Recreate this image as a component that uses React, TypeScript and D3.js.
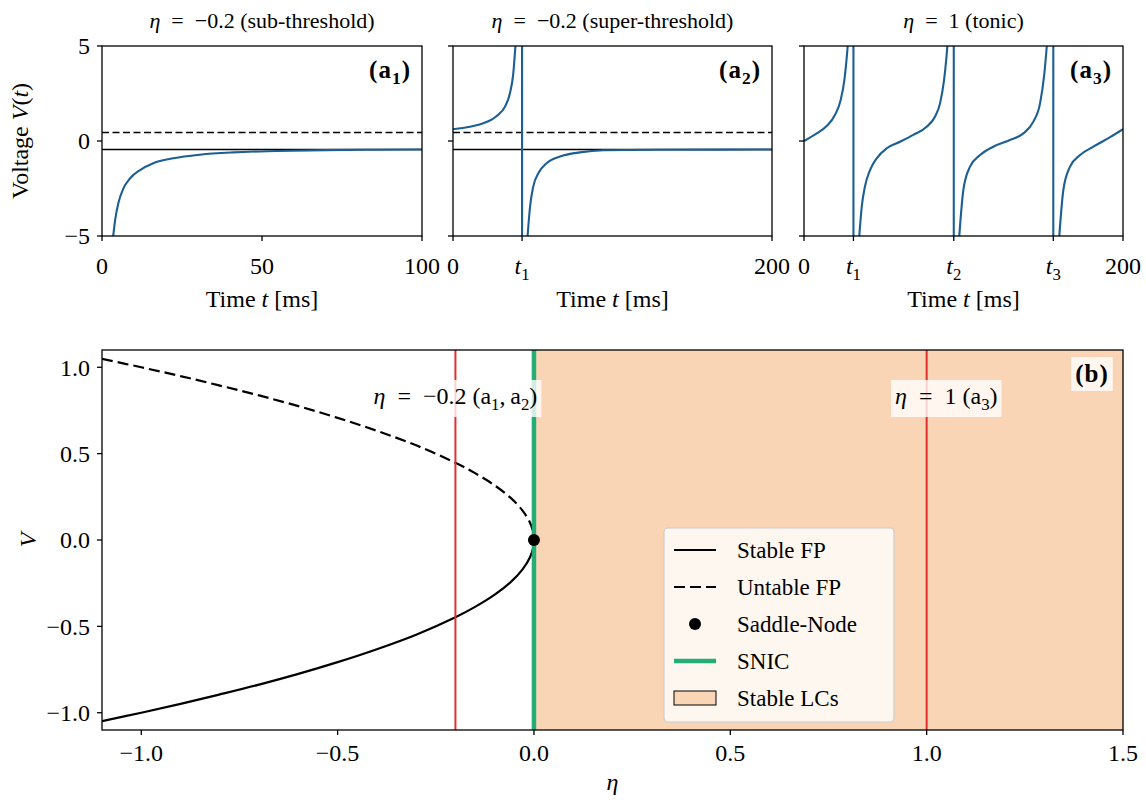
import React, { useRef, useEffect } from 'react';
import * as d3 from 'd3';

// ---- data ----
// (a1) eta = -0.2, sub-threshold
const a1T = [3.5, 4.1, 5.1, 6.7, 8.8, 11.9, 16, 22.3, 30.6, 41, 54.6, 70, 85, 100];
const a1V = [-5, -4.16, -3.28, -2.49, -1.96, -1.53, -1.17, -0.91, -0.72, -0.6, -0.53, -0.48, -0.46, -0.45];

// (a2) eta = -0.2, super-threshold: before and after the spike
const a2PreT = [0, 10.7, 19, 27.4, 32.6, 35.7, 37.8, 39.1];
const a2PreV = [0.62, 0.75, 0.93, 1.32, 1.81, 2.51, 3.56, 4.96];
const a2PostT = [46.8, 48.3, 50.3, 53.5, 58.7, 67.1, 79.6, 94.3, 130, 200];
const a2PostV = [-4.95, -3.46, -2.4, -1.7, -1.17, -0.82, -0.6, -0.49, -0.46, -0.45];
const a2Spikes = [43.3];

// (a3) eta = 1, tonic spiking: four pieces between three spikes
const a3Seg1T = [0, 8, 14.2, 19.4, 23, 25.3, 27, 27.4];
const a3Seg1V = [0, 0.4, 0.79, 1.37, 2.16, 3.2, 4.6, 5.0];
const a3Seg2T = [34.7, 36.2, 38.2, 41.4, 45.6, 51.9, 60.2, 68.5, 76.9, 82.1, 85.3, 87.8, 89.5, 89.9];
const a3Seg2V = [-4.95, -3.46, -2.4, -1.53, -0.91, -0.38, -0.04, 0.32, 0.75, 1.28, 1.98, 3.2, 4.6, 5.0];
const a3Seg3T = [97.4, 99.9, 104.1, 110.4, 118.7, 129.2, 137.5, 143.8, 148, 150.7, 152.2];
const a3Seg3V = [-4.95, -2.58, -1.35, -0.74, -0.3, 0.05, 0.4, 1.02, 1.98, 3.56, 4.96];
const a3Seg4T = [160.1, 162.6, 166.8, 173.1, 181.4, 191.9, 200];
const a3Seg4V = [-4.95, -2.58, -1.35, -0.74, -0.3, 0.2, 0.62];
const a3Spikes = [31, 93.9, 156.3];

// fixed points at eta = -0.2
const fpStable = -0.447;
const fpUnstable = 0.447;

// (b) bifurcation diagram
const fpEta = [-1.1, -1.0, -0.9, -0.8, -0.7, -0.6, -0.5, -0.4, -0.3, -0.2, -0.15, -0.1, -0.06, -0.03, -0.01, -0.002, 0];
const stableV = [-1.049, -1.0, -0.949, -0.894, -0.837, -0.775, -0.707, -0.632, -0.548, -0.447, -0.387, -0.316, -0.245, -0.173, -0.1, -0.045, 0];
const unstableV = [1.049, 1.0, 0.949, 0.894, 0.837, 0.775, 0.707, 0.632, 0.548, 0.447, 0.387, 0.316, 0.245, 0.173, 0.1, 0.045, 0];
const snicEta = 0;
const lcEta = [0, 1.5];
const markEta = [-0.2, 1];

const bTicksX = [-1.0, -0.5, 0.0, 0.5, 1.0, 1.5];
const bTicksY = [-1.0, -0.5, 0.0, 0.5, 1.0];
const aTicksY = [-5, 0, 5];

const FONT = '"Liberation Serif", "DejaVu Serif", serif';
const BLUE = '#1c5f95';
const RED = '#e0302f';
const GREEN = '#25ad78';
const PEACH = '#f9d5b5';
const SP = '\u2002'; // math-mode spacing around "="

type Part = { t: string; i?: boolean; sub?: boolean };

function rich(text: any, parts: Part[], size: number) {
  let shift = 0;
  parts.forEach(p => {
    const ts = text.append('tspan').text(p.t);
    if (p.i) ts.attr('font-style', 'italic');
    const want = p.sub ? size * 0.25 : 0;
    if (want !== shift) ts.attr('dy', want - shift);
    shift = want;
    if (p.sub) ts.attr('font-size', size * 0.7);
  });
}

const minus = (v: number, digits: number) => {
  const s = v.toFixed(digits);
  return s.startsWith('-') ? '\u2212' + s.slice(1) : s;
};

const App = () => {
  const ref = useRef<SVGSVGElement>(null);

  useEffect(() => {
    const svg = d3.select(ref.current);
    svg.selectAll('*').remove();
    svg.attr('font-family', FONT);

    const defs = svg.append('defs');
    const fs = 24;

    // ---------- top row ----------
    const top = 46, bottom = 236;
    const panels = [
      { x0: 102, x1: 422, xmax: 100, title: [{ t: 'η', i: true }, { t: `${SP}=${SP}\u22120.2 (sub-threshold)` }], lab: '1' },
      { x0: 453, x1: 772, xmax: 200, title: [{ t: 'η', i: true }, { t: `${SP}=${SP}\u22120.2 (super-threshold)` }], lab: '2' },
      { x0: 804, x1: 1123, xmax: 200, title: [{ t: 'η', i: true }, { t: `${SP}=${SP}1 (tonic)` }], lab: '3' },
    ];
    const y = d3.scaleLinear().domain([-5, 5]).range([bottom, top]);

    panels.forEach((p, pi) => {
      const x = d3.scaleLinear().domain([0, p.xmax]).range([p.x0, p.x1]);
      const g = svg.append('g');
      const clipId = `clipA${pi}`;
      defs.append('clipPath').attr('id', clipId)
        .append('rect').attr('x', p.x0).attr('y', top).attr('width', p.x1 - p.x0).attr('height', bottom - top);
      const plot = g.append('g').attr('clip-path', `url(#${clipId})`);

      // fixed points (only for eta = -0.2)
      if (pi < 2) {
        plot.append('line').attr('x1', p.x0).attr('x2', p.x1)
          .attr('y1', y(fpUnstable)).attr('y2', y(fpUnstable))
          .attr('stroke', '#000').attr('stroke-width', 1.5).attr('stroke-dasharray', '7,3.5');
        plot.append('line').attr('x1', p.x0).attr('x2', p.x1)
          .attr('y1', y(fpStable)).attr('y2', y(fpStable))
          .attr('stroke', '#000').attr('stroke-width', 1.5);
      }

      const smooth = d3.line<[number, number]>().x(d => x(d[0])).y(d => y(d[1])).curve(d3.curveMonotoneX);
      const straight = d3.line<[number, number]>().x(d => x(d[0])).y(d => y(d[1]));
      const zip = (ts: number[], vs: number[]) => ts.map((t, i) => [t, vs[i]] as [number, number]);

      let segs: [number, number][][] = [];
      let spikes: number[] = [];
      if (pi === 0) segs = [zip(a1T, a1V)];
      if (pi === 1) { segs = [zip(a2PreT, a2PreV), zip(a2PostT, a2PostV)]; spikes = a2Spikes; }
      if (pi === 2) {
        segs = [zip(a3Seg1T, a3Seg1V), zip(a3Seg2T, a3Seg2V), zip(a3Seg3T, a3Seg3V), zip(a3Seg4T, a3Seg4V)];
        spikes = a3Spikes;
      }
      segs.forEach(s => {
        plot.append('path').attr('d', smooth(s)).attr('fill', 'none')
          .attr('stroke', BLUE).attr('stroke-width', 2.1);
      });
      spikes.forEach((st, i) => {
        const before = segs[i][segs[i].length - 1];
        const after = segs[i + 1][0];
        const pts: [number, number][] = [before, [st, 60], [st, -60], after];
        plot.append('path').attr('d', straight(pts)).attr('fill', 'none')
          .attr('stroke', BLUE).attr('stroke-width', 2.1);
      });

      // spines
      g.append('rect').attr('x', p.x0).attr('y', top).attr('width', p.x1 - p.x0).attr('height', bottom - top)
        .attr('fill', 'none').attr('stroke', '#000').attr('stroke-width', 1.3);

      // y ticks
      aTicksY.forEach(v => {
        g.append('line').attr('x1', p.x0 - 5).attr('x2', p.x0).attr('y1', y(v)).attr('y2', y(v))
          .attr('stroke', '#000').attr('stroke-width', 1.3);
        if (pi === 0) {
          g.append('text').attr('x', p.x0 - 12).attr('y', y(v)).attr('dy', '0.35em')
            .attr('text-anchor', 'end').attr('font-size', fs).text(minus(v, 0));
        }
      });

      // x ticks
      const xt: { v: number; parts: Part[] }[] = [{ v: 0, parts: [{ t: '0' }] }];
      if (pi === 0) { xt.push({ v: 50, parts: [{ t: '50' }] }); }
      spikes.forEach((s, i) => xt.push({ v: s, parts: [{ t: 't', i: true }, { t: String(i + 1), sub: true }] }));
      xt.push({ v: p.xmax, parts: [{ t: String(p.xmax) }] });
      xt.forEach(tk => {
        g.append('line').attr('x1', x(tk.v)).attr('x2', x(tk.v)).attr('y1', bottom).attr('y2', bottom + 5)
          .attr('stroke', '#000').attr('stroke-width', 1.3);
        const tx = g.append('text').attr('x', x(tk.v)).attr('y', bottom + 38)
          .attr('text-anchor', 'middle').attr('font-size', fs);
        rich(tx, tk.parts, fs);
      });

      // x label
      const xl = g.append('text').attr('x', (p.x0 + p.x1) / 2).attr('y', 307)
        .attr('text-anchor', 'middle').attr('font-size', fs);
      rich(xl, [{ t: 'Time ' }, { t: 't', i: true }, { t: ' [ms]' }], fs);

      // title
      const ti = g.append('text').attr('x', (p.x0 + p.x1) / 2).attr('y', 28)
        .attr('text-anchor', 'middle').attr('font-size', 22);
      rich(ti, p.title, 22);

      // panel label
      const pl = g.append('text').attr('x', p.x1 - 11).attr('y', 78)
        .attr('text-anchor', 'end').attr('font-size', 25).attr('font-weight', 'bold')
        .attr('letter-spacing', 1);
      rich(pl, [{ t: '(a' }, { t: p.lab, sub: true }, { t: ')' }], 25);
    });

    // y label top
    const yl = svg.append('text').attr('transform', `translate(28,${(top + bottom) / 2}) rotate(-90)`)
      .attr('text-anchor', 'middle').attr('font-size', fs);
    rich(yl, [{ t: 'Voltage ' }, { t: 'V', i: true }, { t: '(' }, { t: 't', i: true }, { t: ')' }], fs);

    // ---------- bottom panel ----------
    const bx0 = 102, bx1 = 1123, by0 = 350, by1 = 730;
    const xb = d3.scaleLinear().domain([-1.1, 1.5]).range([bx0, bx1]);
    const yb = d3.scaleLinear().domain([-1.1, 1.1]).range([by1, by0]);
    const gb = svg.append('g');
    defs.append('clipPath').attr('id', 'clipB')
      .append('rect').attr('x', bx0).attr('y', by0).attr('width', bx1 - bx0).attr('height', by1 - by0);
    const pb = gb.append('g').attr('clip-path', 'url(#clipB)');

    pb.append('rect').attr('x', xb(lcEta[0])).attr('y', by0)
      .attr('width', xb(lcEta[1]) - xb(lcEta[0])).attr('height', by1 - by0).attr('fill', PEACH);

    const fpLine = d3.line<number>().x((_, i) => xb(fpEta[i])).curve(d3.curveCatmullRom);
    pb.append('path').attr('d', fpLine.y(d => yb(d))(stableV)).attr('fill', 'none')
      .attr('stroke', '#000').attr('stroke-width', 2.2);
    pb.append('path').attr('d', fpLine.y(d => yb(d))(unstableV)).attr('fill', 'none')
      .attr('stroke', '#000').attr('stroke-width', 2.2).attr('stroke-dasharray', '11,5');

    markEta.forEach(e => {
      pb.append('line').attr('x1', xb(e)).attr('x2', xb(e)).attr('y1', by0).attr('y2', by1)
        .attr('stroke', RED).attr('stroke-width', 2);
    });
    pb.append('line').attr('x1', xb(snicEta)).attr('x2', xb(snicEta)).attr('y1', by0).attr('y2', by1)
      .attr('stroke', GREEN).attr('stroke-width', 4.5);
    pb.append('circle').attr('cx', xb(0)).attr('cy', yb(0)).attr('r', 6).attr('fill', '#000');

    // boxed annotations
    const boxed = (cx: number, by: number, parts: Part[], size: number, bold = false) => {
      const gg = gb.append('g');
      const t = gg.append('text').attr('x', cx).attr('y', by).attr('text-anchor', 'middle')
        .attr('font-size', size).attr('font-weight', bold ? 'bold' : 'normal');
      if (bold) t.attr('letter-spacing', 1);
      rich(t, parts, size);
      const bb = (t.node() as SVGTextElement).getBBox();
      gg.insert('rect', 'text').attr('x', bb.x - 4).attr('y', bb.y - 3)
        .attr('width', bb.width + 8).attr('height', bb.height + 6)
        .attr('fill', '#fff').attr('fill-opacity', 0.78);
    };
    boxed(xb(markEta[0]), 404, [{ t: 'η', i: true }, { t: `${SP}=${SP}\u22120.2 (a` }, { t: '1', sub: true }, { t: ',\u2009a' }, { t: '2', sub: true }, { t: ')' }], fs);
    boxed(xb(1.05), 404, [{ t: 'η', i: true }, { t: `${SP}=${SP}1 (a` }, { t: '3', sub: true }, { t: ')' }], fs);
    boxed(1092, 382, [{ t: '(b)' }], 25, true);

    gb.append('rect').attr('x', bx0).attr('y', by0).attr('width', bx1 - bx0).attr('height', by1 - by0)
      .attr('fill', 'none').attr('stroke', '#000').attr('stroke-width', 1.3);

    bTicksX.forEach(v => {
      gb.append('line').attr('x1', xb(v)).attr('x2', xb(v)).attr('y1', by1).attr('y2', by1 + 5)
        .attr('stroke', '#000').attr('stroke-width', 1.3);
      gb.append('text').attr('x', xb(v)).attr('y', by1 + 31).attr('text-anchor', 'middle')
        .attr('font-size', fs).text(minus(v, 1));
    });
    bTicksY.forEach(v => {
      gb.append('line').attr('x1', bx0 - 5).attr('x2', bx0).attr('y1', yb(v)).attr('y2', yb(v))
        .attr('stroke', '#000').attr('stroke-width', 1.3);
      gb.append('text').attr('x', bx0 - 12).attr('y', yb(v)).attr('dy', '0.35em').attr('text-anchor', 'end')
        .attr('font-size', fs).text(minus(v, 1));
    });
    gb.append('text').attr('x', (bx0 + bx1) / 2).attr('y', 790).attr('text-anchor', 'middle')
      .attr('font-size', fs).attr('font-style', 'italic').text('η');
    gb.append('text').attr('transform', `translate(36,${yb(0)}) rotate(-90)`).attr('text-anchor', 'middle')
      .attr('font-size', fs).attr('font-style', 'italic').text('V');

    // legend
    const lg = gb.append('g');
    const lx = 664, ly = 528, lw = 230, lh = 194;
    lg.append('rect').attr('x', lx).attr('y', ly).attr('width', lw).attr('height', lh).attr('rx', 4)
      .attr('fill', '#fff').attr('fill-opacity', 0.8).attr('stroke', '#cccccc').attr('stroke-width', 1.2);
    const items = ['Stable FP', 'Untable FP', 'Saddle-Node', 'SNIC', 'Stable LCs'];
    const hx0 = lx + 10, hx1 = lx + 52;
    items.forEach((name, i) => {
      const cy = ly + 22 + i * 37;
      if (i === 0 || i === 1) {
        lg.append('line').attr('x1', hx0).attr('x2', hx1).attr('y1', cy).attr('y2', cy)
          .attr('stroke', '#000').attr('stroke-width', 2.2).attr('stroke-dasharray', i === 1 ? '11,5' : null);
      } else if (i === 2) {
        lg.append('circle').attr('cx', (hx0 + hx1) / 2).attr('cy', cy).attr('r', 6).attr('fill', '#000');
      } else if (i === 3) {
        lg.append('line').attr('x1', hx0).attr('x2', hx1).attr('y1', cy).attr('y2', cy)
          .attr('stroke', GREEN).attr('stroke-width', 4.5);
      } else {
        lg.append('rect').attr('x', hx0).attr('y', cy - 7).attr('width', hx1 - hx0).attr('height', 14)
          .attr('fill', PEACH).attr('stroke', '#000').attr('stroke-width', 1);
      }
      lg.append('text').attr('x', lx + 73).attr('y', cy).attr('dy', '0.35em')
        .attr('font-size', 23).text(name);
    });
  }, []);

  return (
    <svg ref={ref} width={1146} height={800}
      style={{ position: 'absolute', left: 0, top: 0, background: '#fff' }} />
  );
};

export default App;
